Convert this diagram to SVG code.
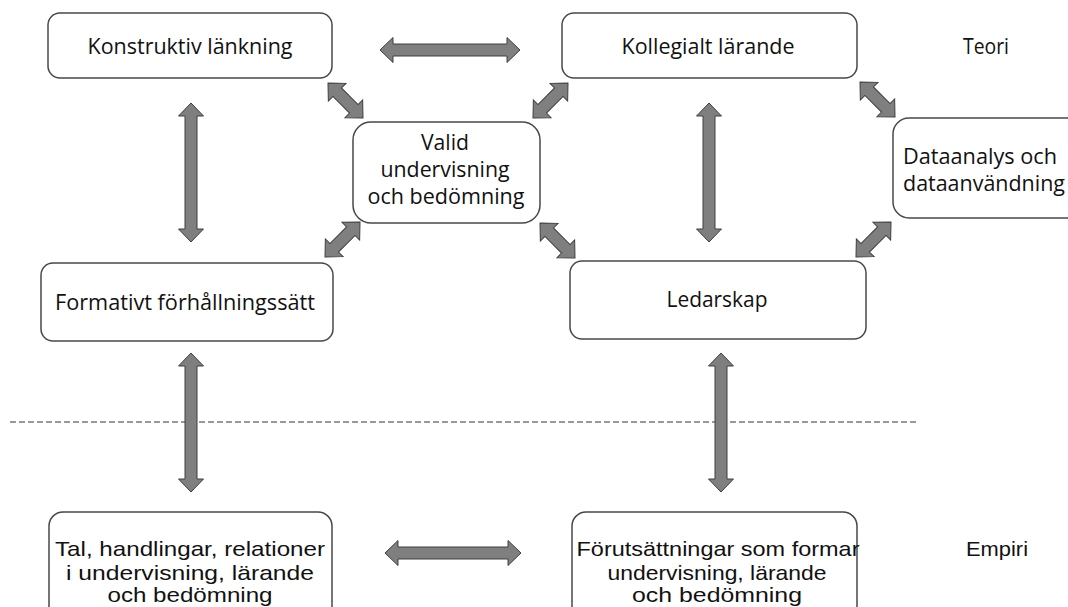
<svg xmlns="http://www.w3.org/2000/svg" width="1068" height="607" viewBox="0 0 1068 607">
  <style>
    .box { fill: #ffffff; stroke: #484848; stroke-width: 1.5; }
    .arrow { fill: #7f7f7f; stroke: #3f3f3f; stroke-width: 1; stroke-linejoin: miter; }
    .lbl { font-family: "Open Sans", "Liberation Sans", sans-serif; font-size: 21px; fill: #111111; text-anchor: middle; }
    .cond { font-family: "Liberation Sans", "Open Sans", sans-serif; font-size: 21px; fill: #111111; text-anchor: middle; }
    .divider { stroke: #9a9a9a; stroke-width: 2; stroke-dasharray: 6 3; fill: none; }
  </style>
  <rect width="1068" height="607" fill="#ffffff"/>

  <!-- theory / empirics divider -->
  <line class="divider" x1="10" y1="422" x2="918" y2="422"/>

  <!-- connectors: block double arrows, local axis along +x -->
  <g id="connectors">
    <path class="arrow" transform="translate(380,50)" d="M0,0 L13,-12.5 L13,-6 L127,-6 L127,-12.5 L140,0 L127,12.5 L127,6 L13,6 L13,12.5 Z"/>
    <path class="arrow" transform="translate(191,103) rotate(90)" d="M0,0 L13,-12.5 L13,-6 L126,-6 L126,-12.5 L139,0 L126,12.5 L126,6 L13,6 L13,12.5 Z"/>
    <path class="arrow" transform="translate(709,103) rotate(90)" d="M0,0 L13,-12.5 L13,-6 L126,-6 L126,-12.5 L139,0 L126,12.5 L126,6 L13,6 L13,12.5 Z"/>
    <path class="arrow" transform="translate(191,353) rotate(90)" d="M0,0 L13,-12.5 L13,-6 L126,-6 L126,-12.5 L139,0 L126,12.5 L126,6 L13,6 L13,12.5 Z"/>
    <path class="arrow" transform="translate(721,353) rotate(90)" d="M0,0 L13,-12.5 L13,-6 L126,-6 L126,-12.5 L139,0 L126,12.5 L126,6 L13,6 L13,12.5 Z"/>
    <path class="arrow" transform="translate(385,553)" d="M0,0 L13,-12.5 L13,-6 L123,-6 L123,-12.5 L136,0 L123,12.5 L123,6 L13,6 L13,12.5 Z"/>
    <!-- diagonal links around the central node and to the data node -->
    <path class="arrow" transform="translate(328,83) rotate(45)" d="M0,0 L13,-12.5 L13,-6 L36.5,-6 L36.5,-12.5 L49.5,0 L36.5,12.5 L36.5,6 L13,6 L13,12.5 Z"/>
    <path class="arrow" transform="translate(568,83) rotate(135)" d="M0,0 L13,-12.5 L13,-6 L36.5,-6 L36.5,-12.5 L49.5,0 L36.5,12.5 L36.5,6 L13,6 L13,12.5 Z"/>
    <path class="arrow" transform="translate(325,257) rotate(-45)" d="M0,0 L13,-12.5 L13,-6 L36.5,-6 L36.5,-12.5 L49.5,0 L36.5,12.5 L36.5,6 L13,6 L13,12.5 Z"/>
    <path class="arrow" transform="translate(540,223) rotate(45)" d="M0,0 L13,-12.5 L13,-6 L36.5,-6 L36.5,-12.5 L49.5,0 L36.5,12.5 L36.5,6 L13,6 L13,12.5 Z"/>
    <path class="arrow" transform="translate(860,82) rotate(45)" d="M0,0 L13,-12.5 L13,-6 L36.5,-6 L36.5,-12.5 L49.5,0 L36.5,12.5 L36.5,6 L13,6 L13,12.5 Z"/>
    <path class="arrow" transform="translate(856,257) rotate(-45)" d="M0,0 L13,-12.5 L13,-6 L36.5,-6 L36.5,-12.5 L49.5,0 L36.5,12.5 L36.5,6 L13,6 L13,12.5 Z"/>
  </g>

  <g id="konstruktiv">
    <rect class="box" x="48" y="13" width="284" height="65" rx="12"/>
    <text class="lbl" x="190" y="54" textLength="205" lengthAdjust="spacingAndGlyphs">Konstruktiv länkning</text>
  </g>
  <g id="kollegialt">
    <rect class="box" x="562" y="13" width="295" height="65" rx="12"/>
    <text class="lbl" x="708" y="54" textLength="173" lengthAdjust="spacingAndGlyphs">Kollegialt lärande</text>
  </g>
  <g id="teori">
    <text class="lbl" x="986" y="54" textLength="46" lengthAdjust="spacingAndGlyphs">Teori</text>
  </g>
  <g id="valid">
    <rect class="box" x="353" y="122" width="187" height="101" rx="18"/>
    <text class="lbl" x="445" y="150" textLength="48" lengthAdjust="spacingAndGlyphs">Valid</text>
    <text class="lbl" x="445" y="177" textLength="129" lengthAdjust="spacingAndGlyphs">undervisning</text>
    <text class="lbl" x="446" y="204" textLength="157" lengthAdjust="spacingAndGlyphs">och bedömning</text>
  </g>
  <g id="dataanalys">
    <rect class="box" x="893" y="118" width="190" height="100" rx="16"/>
    <text class="lbl" x="980" y="164" textLength="154" lengthAdjust="spacingAndGlyphs">Dataanalys och</text>
    <text class="lbl" x="984" y="191" textLength="162" lengthAdjust="spacingAndGlyphs">dataanvändning</text>
  </g>
  <g id="formativt">
    <rect class="box" x="41" y="263" width="292" height="78" rx="12"/>
    <text class="lbl" x="185" y="310" textLength="260" lengthAdjust="spacingAndGlyphs">Formativt förhållningssätt</text>
  </g>
  <g id="ledarskap">
    <rect class="box" x="570" y="261" width="296" height="78" rx="12"/>
    <text class="lbl" x="717" y="307" textLength="101" lengthAdjust="spacingAndGlyphs">Ledarskap</text>
  </g>
  <g id="tal">
    <rect class="box" x="49" y="512" width="283" height="120" rx="14"/>
    <text class="cond" x="190" y="556" textLength="270" lengthAdjust="spacingAndGlyphs">Tal, handlingar, relationer</text>
    <text class="cond" x="190" y="580" textLength="248" lengthAdjust="spacingAndGlyphs">i undervisning, lärande</text>
    <text class="cond" x="190" y="602" textLength="165" lengthAdjust="spacingAndGlyphs">och bedömning</text>
  </g>
  <g id="forutsattningar">
    <rect class="box" x="572" y="512" width="285" height="120" rx="14"/>
    <text class="cond" x="718" y="556" textLength="283" lengthAdjust="spacingAndGlyphs">Förutsättningar som formar</text>
    <text class="cond" x="717" y="580" textLength="219" lengthAdjust="spacingAndGlyphs">undervisning, lärande</text>
    <text class="cond" x="717" y="602" textLength="170" lengthAdjust="spacingAndGlyphs">och bedömning</text>
  </g>
  <g id="empiri">
    <text class="cond" x="997" y="556" textLength="62" lengthAdjust="spacingAndGlyphs">Empiri</text>
  </g>
</svg>
